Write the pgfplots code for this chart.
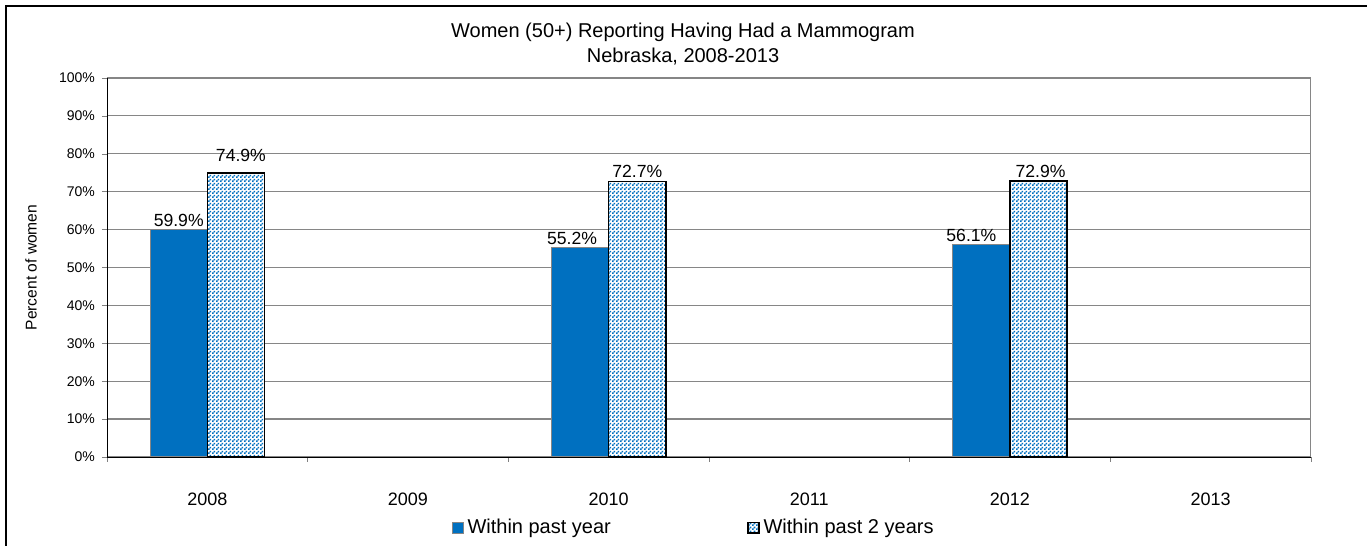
\documentclass[border=0pt]{standalone}
\usepackage{pgfplots}
\pgfplotsset{compat=1.18}
\usepackage{fontspec}
\setmainfont{Liberation Sans}
\usetikzlibrary{patterns}
\definecolor{barblue}{HTML}{0070C0}
\definecolor{gridgray}{HTML}{868686}
\pgfdeclarepatternformonly{finecheck}{\pgfpointorigin}{\pgfqpoint{2pt}{2pt}}{\pgfqpoint{2pt}{2pt}}{%
  \pgfpathrectangle{\pgfpointorigin}{\pgfqpoint{1pt}{1pt}}%
  \pgfpathrectangle{\pgfqpoint{1pt}{1pt}}{\pgfqpoint{1pt}{1pt}}%
  \pgfusepath{fill}}
\begin{document}
\begin{tikzpicture}
  % page frame: 1367x546 px at 0.5pt per px
  \path[use as bounding box] (-53.5pt,-44.5pt) rectangle (630pt,228.5pt);
  \draw[line width=0.8pt] (-50.5pt,-44.5pt) -- (-50.5pt,225.5pt) -- (630pt,225.5pt);
  \node[align=center, font=\fontsize{10}{12.5}\selectfont] at (288pt,206.5pt)
    {Women (50+) Reporting Having Had a Mammogram\\Nebraska, 2008-2013};
  \begin{axis}[
    at={(0,0)}, anchor=south west,
    scale only axis,
    width=602pt, height=189.5pt,
    ybar=0pt,
    bar width=0.285,
    xmin=-0.5, xmax=5.5,
    ymin=0, ymax=100,
    xtick={0,1,2,3,4,5},
    xticklabels={2008,2009,2010,2011,2012,2013},
    minor xtick={-0.5,0.5,1.5,2.5,3.5,4.5,5.5},
    major x tick style={draw=none},
    minor tick length=2.5pt,
    ytick={0,10,...,100},
    major tick length=2.5pt,
    tick align=outside,
    axis x line*=bottom, axis y line*=left,
    ymajorgrids,
    grid style={gridgray, line width=0.6pt},
    yticklabel={\pgfmathprintnumber{\tick}\%},
    /pgf/number format/assume math mode=true,
    yticklabel style={font=\fontsize{7}{8.5}\selectfont},
    xticklabel style={font=\fontsize{9}{10}\selectfont, yshift=-12pt},
    ylabel={Percent of women},
    every axis y label/.style={at={(rel axis cs:0,0.5)}, xshift=-38pt, rotate=90,
      anchor=center, font=\fontsize{7.8}{9}\selectfont},
    visualization depends on={\thisrow{dy} \as \lblshift},
    visualization depends on={\thisrow{dx} \as \lblxshift},
    nodes near coords={\pgfmathprintnumber[fixed,fixed zerofill,precision=1]{\pgfplotspointmeta}\%},
    every node near coord/.append style={font=\fontsize{8.8}{10}\selectfont, anchor=south,
      yshift=\lblshift pt, xshift=\lblxshift pt},
    legend columns=2,
    legend style={at={(0.488,-0.187)}, anchor=center, draw=none, fill=none,
      font=\fontsize{10}{12}\selectfont,
      /tikz/every even column/.append style={column sep=66pt}},
    legend image code/.code={\draw[#1] (0pt,-2.7pt) rectangle (5.5pt,2.7pt);},
  ]
    \addplot[fill=barblue, draw=gridgray, line width=0.5pt] table {
      x y dy dx
      0 59.9 -2 0
      2 55.2 -2 -4
      4 56.1 -2 -5
    };
    \addlegendentry{Within past year}
    \addplot[fill=white, draw=black, line width=0.8pt,
      postaction={pattern=finecheck, pattern color=barblue}] table {
      x y dy dx
      0 74.9 2 2.5
      2 72.7 -2 0
      4 72.9 -2 1
    };
    \addlegendentry{Within past 2 years}
    \draw[gridgray, line width=0.6pt] (rel axis cs:1,0) -- (rel axis cs:1,1);
  \end{axis}
\end{tikzpicture}
\end{document}
